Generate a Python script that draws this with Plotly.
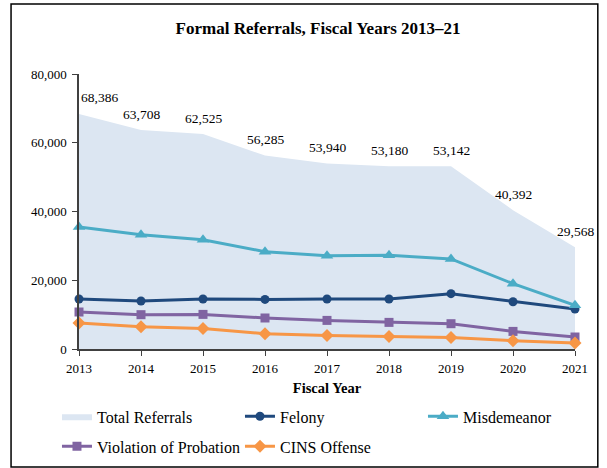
import plotly.graph_objects as go

years = [2013, 2014, 2015, 2016, 2017, 2018, 2019, 2020, 2021]
total = [68386, 63708, 62525, 56285, 53940, 53180, 53142, 40392, 29568]
felony = [14550, 13960, 14550, 14430, 14550, 14550, 16090, 13760, 11640]
misdemeanor = [35500, 33250, 31800, 28300, 27150, 27250, 26200, 19000, 12700]
vop = [10760, 9980, 10070, 9020, 8320, 7740, 7360, 5120, 3490]
cins = [7560, 6490, 5990, 4450, 3960, 3670, 3370, 2410, 1750]
y_ticks = [0, 20000, 40000, 60000, 80000]

FONT = "Liberation Serif"

fig = go.Figure()
fig.add_trace(go.Scatter(
    x=years, y=total, name="Total Referrals", mode="lines", fill="tozeroy",
    fillcolor="#DCE6F2", line=dict(width=0, color="#DCE6F2"), hoverinfo="skip",
    legend="legend"))

series = [
    ("Felony", felony, "#1F497D", "circle", 9, "legend"),
    ("Misdemeanor", misdemeanor, "#4BACC6", "triangle-up", 11, "legend"),
    ("Violation of Probation", vop, "#8064A2", "square", 9, "legend2"),
    ("CINS Offense", cins, "#F79646", "diamond", 10, "legend2"),
]
for name, vals, color, sym, size, lg in series:
    fig.add_trace(go.Scatter(
        x=years, y=vals, name=name, mode="lines+markers",
        line=dict(color=color, width=3),
        marker=dict(symbol=sym, size=size, color=color),
        cliponaxis=False, legend=lg))

for i, (yr, v) in enumerate(zip(years, total)):
    fig.add_annotation(
        x=yr, y=v, text=f"{v:,}", showarrow=False,
        xanchor="left" if i == 0 else "center", yanchor="middle",
        yshift=16, font=dict(family=FONT, size=13.5, color="#000"))

fig.add_shape(type="rect", xref="paper", yref="paper",
              x0=-0.137, x1=1.046, y0=-0.429, y1=1.2545,
              line=dict(color="#000", width=1.5), fillcolor="rgba(0,0,0,0)")

legend_common = dict(orientation="h", xanchor="left", yanchor="middle",
                     font=dict(family=FONT, size=16, color="#000"),
                     entrywidth=138, entrywidthmode="pixels", itemwidth=30,
                     bgcolor="rgba(0,0,0,0)")

fig.update_layout(
    width=607, height=468,
    margin=dict(l=79, r=32, t=74, b=119, autoexpand=False),
    paper_bgcolor="white", plot_bgcolor="white",
    font=dict(family=FONT, size=13, color="#000"),
    title=dict(text="<b>Formal Referrals, Fiscal Years 2013–21</b>",
               x=0.524, xref="container", xanchor="center",
               y=0.94, yanchor="middle",
               font=dict(family=FONT, size=17, color="#000")),
    xaxis=dict(range=[2013, 2021], tickvals=years, ticks="outside",
               ticklen=5, tickcolor="#404040", showline=True, linecolor="#404040",
               linewidth=1.5, showgrid=False, zeroline=False,
               ticklabelstandoff=2,
               title=dict(text="<b>Fiscal Year</b>", standoff=8,
                          font=dict(family=FONT, size=14.5))),
    yaxis=dict(range=[0, 80000], tickvals=y_ticks, tickformat=",",
               ticks="outside", ticklen=5, tickcolor="#404040", showline=True,
               linecolor="#404040", linewidth=1.5, showgrid=False, zeroline=False,
               ticklabelstandoff=3),
    legend=dict(x=-0.0444, y=-0.245, **legend_common),
    legend2=dict(x=-0.0444, y=-0.354, **legend_common),
    showlegend=True,
)

fig.write_html("out.html", config={"displayModeBar": False},
               post_script="document.body.style.margin='0';")
